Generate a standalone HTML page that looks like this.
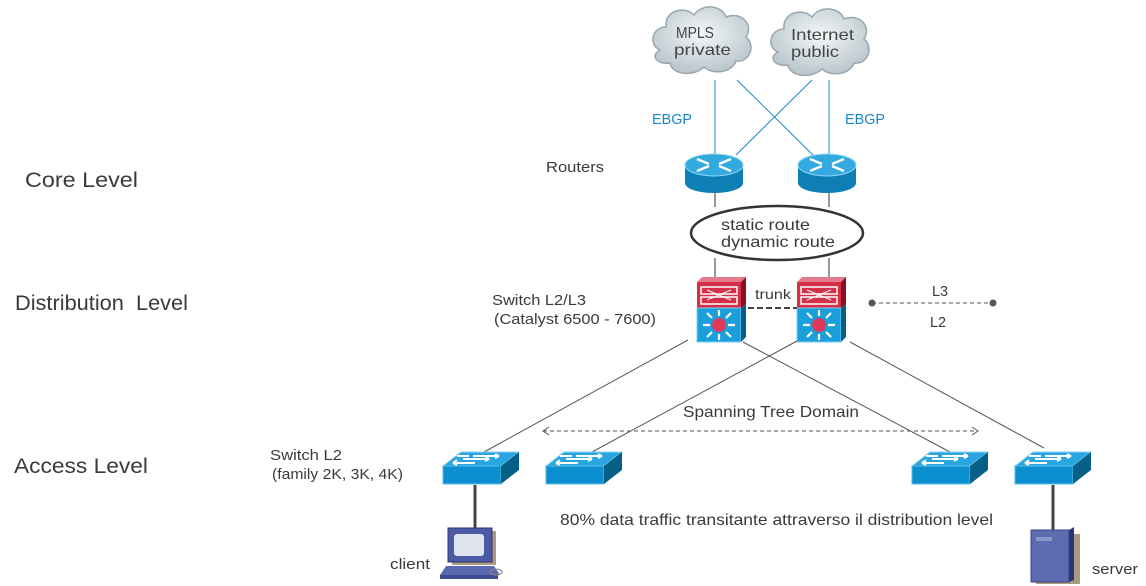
<!DOCTYPE html>
<html><head><meta charset="utf-8"><style>
html,body{margin:0;padding:0;background:#fff;}
svg{display:block;}
text{font-family:"Liberation Sans",sans-serif;fill:#3a3a3a;}
</style></head><body>
<svg width="1146" height="586" viewBox="0 0 1146 586" xmlns="http://www.w3.org/2000/svg">
<defs>
<radialGradient id="cl" cx="50%" cy="40%" r="60%"><stop offset="0" stop-color="#f4f7f8"/><stop offset="1" stop-color="#b9c6cc"/></radialGradient>
<g id="sw">
 <polygon points="0,14 18,0 76,0 58,14" fill="#29a6e0" stroke="#8fd3f3" stroke-width="1"/>
 <polygon points="0,14 58,14 58,32 0,32" fill="#0b8fcf" stroke="#5bbce8" stroke-width="1"/>
 <polygon points="58,14 76,0 76,18 58,32" fill="#065f87"/>
 <path d="M10,11 h22 M10,11 l4,-3 M10,11 l4,2 M20,7 h26 M46,7 l-4,-3 M46,7 l-4,2 M30,4 h26 M56,4 l-4,-2 M56,4 l-4,2 M26,4 h-12" stroke="#fff" stroke-width="2" fill="none"/>
</g>
<g id="rt">
 <path d="M0,12 v18 a29,10 0 0 0 58,0 v-18" fill="#0d7fb5"/>
 <ellipse cx="29" cy="12" rx="29" ry="11" fill="#32a9df" stroke="#8fd3f3"/>
 <path d="M12,6 l12,5 M12,18 l12,-5 M46,6 l-12,5 M46,18 l-12,-5" stroke="#fff" stroke-width="2.4" fill="none"/>
</g>
<g id="l3">
 <polygon points="0,2 44,2 49,-3 5,-3" fill="#e37b8c"/>
 <rect x="0" y="2" width="44" height="26" fill="#d62f48"/>
 <polygon points="44,2 49,-3 49,24 44,28" fill="#8c0f22"/>
 <rect x="4" y="7" width="36" height="7" fill="none" stroke="#fff" stroke-width="1.5"/>
 <rect x="4" y="17" width="36" height="7" fill="none" stroke="#fff" stroke-width="1.5"/>
 <path d="M10,10 l24,10 M10,20 l24,-10" stroke="#fff" stroke-width="1.2"/>
 <rect x="0" y="28" width="44" height="34" fill="#19a0dc" stroke="#7fcdf0"/>
 <polygon points="44,28 49,24 49,57 44,62" fill="#075f88"/>
 <circle cx="22" cy="45" r="7" fill="#e0385a"/>
 <path d="M22,45 m0,-9 v-6 M22,45 m0,9 v6 M22,45 m-9,0 h-7 M22,45 m9,0 h7 M22,45 m-7,-7 l-5,-5 M22,45 m7,7 l5,5 M22,45 m7,-7 l5,-5 M22,45 m-7,7 l-5,5" stroke="#fff" stroke-width="2.2"/>
</g>
<path id="cloud" d="M10,45 C-2,40 2,22 16,22 C14,6 34,0 44,10 C52,-2 72,0 76,12 C92,6 104,20 96,32 C106,40 100,58 86,56 C82,68 62,70 54,62 C44,72 22,70 20,58 C6,60 0,50 10,45 Z"/>
</defs>

<!-- clouds -->
<use href="#cloud" x="650" y="5" fill="url(#cl)" stroke="#9aa9af" stroke-width="1.5"/>
<use href="#cloud" x="768" y="7" fill="url(#cl)" stroke="#9aa9af" stroke-width="1.5"/>
<g lengthAdjust="spacingAndGlyphs">
<text x="676" y="38" font-size="16" textLength="38" lengthAdjust="spacingAndGlyphs" style="fill:#444">MPLS</text>
<text x="674" y="55" font-size="16" textLength="57" lengthAdjust="spacingAndGlyphs" style="fill:#444">private</text>
<text x="791" y="40" font-size="16" textLength="63" lengthAdjust="spacingAndGlyphs" style="fill:#444">Internet</text>
<text x="791" y="57" font-size="16" textLength="48" lengthAdjust="spacingAndGlyphs" style="fill:#444">public</text>
</g>

<!-- blue lines -->
<g stroke="#1a86c8" stroke-width="1">
<line x1="715" y1="80" x2="715" y2="156"/>
<line x1="829" y1="80" x2="829" y2="156"/>
<line x1="737" y1="80" x2="814" y2="156"/>
<line x1="812" y1="80" x2="736" y2="155"/>
</g>
<text x="652" y="124" font-size="15" textLength="40" lengthAdjust="spacingAndGlyphs" style="fill:#1a86c8">EBGP</text>
<text x="845" y="124" font-size="15" textLength="40" lengthAdjust="spacingAndGlyphs" style="fill:#1a86c8">EBGP</text>

<!-- routers -->
<use href="#rt" x="685" y="153"/>
<use href="#rt" x="798" y="153"/>
<g stroke="#333" stroke-width="1">
<line x1="715" y1="193" x2="715" y2="207"/>
<line x1="829" y1="193" x2="829" y2="207"/>
<line x1="715" y1="258" x2="715" y2="278"/>
<line x1="829" y1="258" x2="829" y2="278"/>
</g>
<ellipse cx="777" cy="233" rx="86" ry="27" fill="#fff" stroke="#333" stroke-width="2.5"/>
<text x="721" y="230" font-size="16" textLength="89" lengthAdjust="spacingAndGlyphs">static route</text>
<text x="721" y="247" font-size="16" textLength="114" lengthAdjust="spacingAndGlyphs">dynamic route</text>
<text x="546" y="172" font-size="15" textLength="58" lengthAdjust="spacingAndGlyphs">Routers</text>

<!-- distribution -->
<use href="#l3" x="697" y="280"/>
<use href="#l3" x="797" y="280"/>
<line x1="748" y1="308" x2="797" y2="308" stroke="#444" stroke-width="2" stroke-dasharray="6,3"/>
<text x="755" y="299" font-size="14" textLength="36" lengthAdjust="spacingAndGlyphs">trunk</text>
<text x="492" y="305" font-size="15" textLength="94" lengthAdjust="spacingAndGlyphs">Switch L2/L3</text>
<text x="494" y="324" font-size="15" textLength="162" lengthAdjust="spacingAndGlyphs">(Catalyst 6500 - 7600)</text>

<line x1="872" y1="303" x2="993" y2="303" stroke="#555" stroke-width="1" stroke-dasharray="4,3"/>
<circle cx="872" cy="303" r="3.5" fill="#555"/><circle cx="993" cy="303" r="3.5" fill="#555"/>
<text x="932" y="296" font-size="15" textLength="16" lengthAdjust="spacingAndGlyphs">L3</text>
<text x="930" y="327" font-size="15" textLength="16" lengthAdjust="spacingAndGlyphs">L2</text>

<!-- links to access -->
<g stroke="#555" stroke-width="1">
<line x1="688" y1="340" x2="484" y2="452"/>
<line x1="743" y1="342" x2="950" y2="452"/>
<line x1="797" y1="341" x2="592" y2="452"/>
<line x1="850" y1="342" x2="1044" y2="448"/>
</g>
<line x1="543" y1="431" x2="978" y2="431" stroke="#555" stroke-width="1" stroke-dasharray="4,3"/>
<path d="M549,427 l-6,4 l6,4 M972,427 l6,4 l-6,4" stroke="#555" fill="none"/>
<text x="683" y="417" font-size="16" textLength="176" lengthAdjust="spacingAndGlyphs">Spanning Tree Domain</text>

<!-- access switches -->
<use href="#sw" x="443" y="452"/>
<use href="#sw" x="546" y="452"/>
<use href="#sw" x="912" y="452"/>
<use href="#sw" x="1015" y="452"/>
<line x1="475" y1="485" x2="475" y2="529" stroke="#444" stroke-width="3"/>
<line x1="1053" y1="485" x2="1053" y2="530" stroke="#444" stroke-width="3"/>

<!-- client -->
<rect x="452" y="531" width="44" height="34" fill="#aa9a80"/>
<rect x="448" y="528" width="44" height="34" fill="#4c5aa6" stroke="#2d3577"/>
<rect x="454" y="534" width="30" height="22" rx="3" fill="#dfe4ee"/>
<polygon points="446,566 494,566 500,575 440,575" fill="#5a68b0"/>
<rect x="440" y="575" width="58" height="4" fill="#3f4a92"/>
<ellipse cx="496" cy="572" rx="6" ry="3" fill="none" stroke="#888"/>
<text x="390" y="569" font-size="15" textLength="40" lengthAdjust="spacingAndGlyphs">client</text>

<!-- server -->
<rect x="1036" y="534" width="44" height="50" fill="#aa9a80"/>
<rect x="1031" y="530" width="38" height="52" fill="#5d6bb0" stroke="#3a4585"/>
<polygon points="1069,530 1074,527 1074,580 1069,582" fill="#2d3577"/>
<rect x="1036" y="537" width="16" height="4" fill="#8a96cc"/>
<text x="1092" y="574" font-size="15" textLength="46" lengthAdjust="spacingAndGlyphs">server</text>

<!-- labels -->
<text x="25" y="187" font-size="21" textLength="113" lengthAdjust="spacingAndGlyphs">Core Level</text>
<text x="15" y="310" font-size="21" textLength="173" lengthAdjust="spacingAndGlyphs">Distribution&#160; Level</text>
<text x="14" y="473" font-size="21" textLength="134" lengthAdjust="spacingAndGlyphs">Access Level</text>
<text x="270" y="460" font-size="15" textLength="72" lengthAdjust="spacingAndGlyphs">Switch L2</text>
<text x="272" y="479" font-size="15" textLength="131" lengthAdjust="spacingAndGlyphs">(family 2K, 3K, 4K)</text>
<text x="560" y="525" font-size="16" textLength="433" lengthAdjust="spacingAndGlyphs">80% data traffic transitante attraverso il distribution level</text>
</svg>
</body></html>
